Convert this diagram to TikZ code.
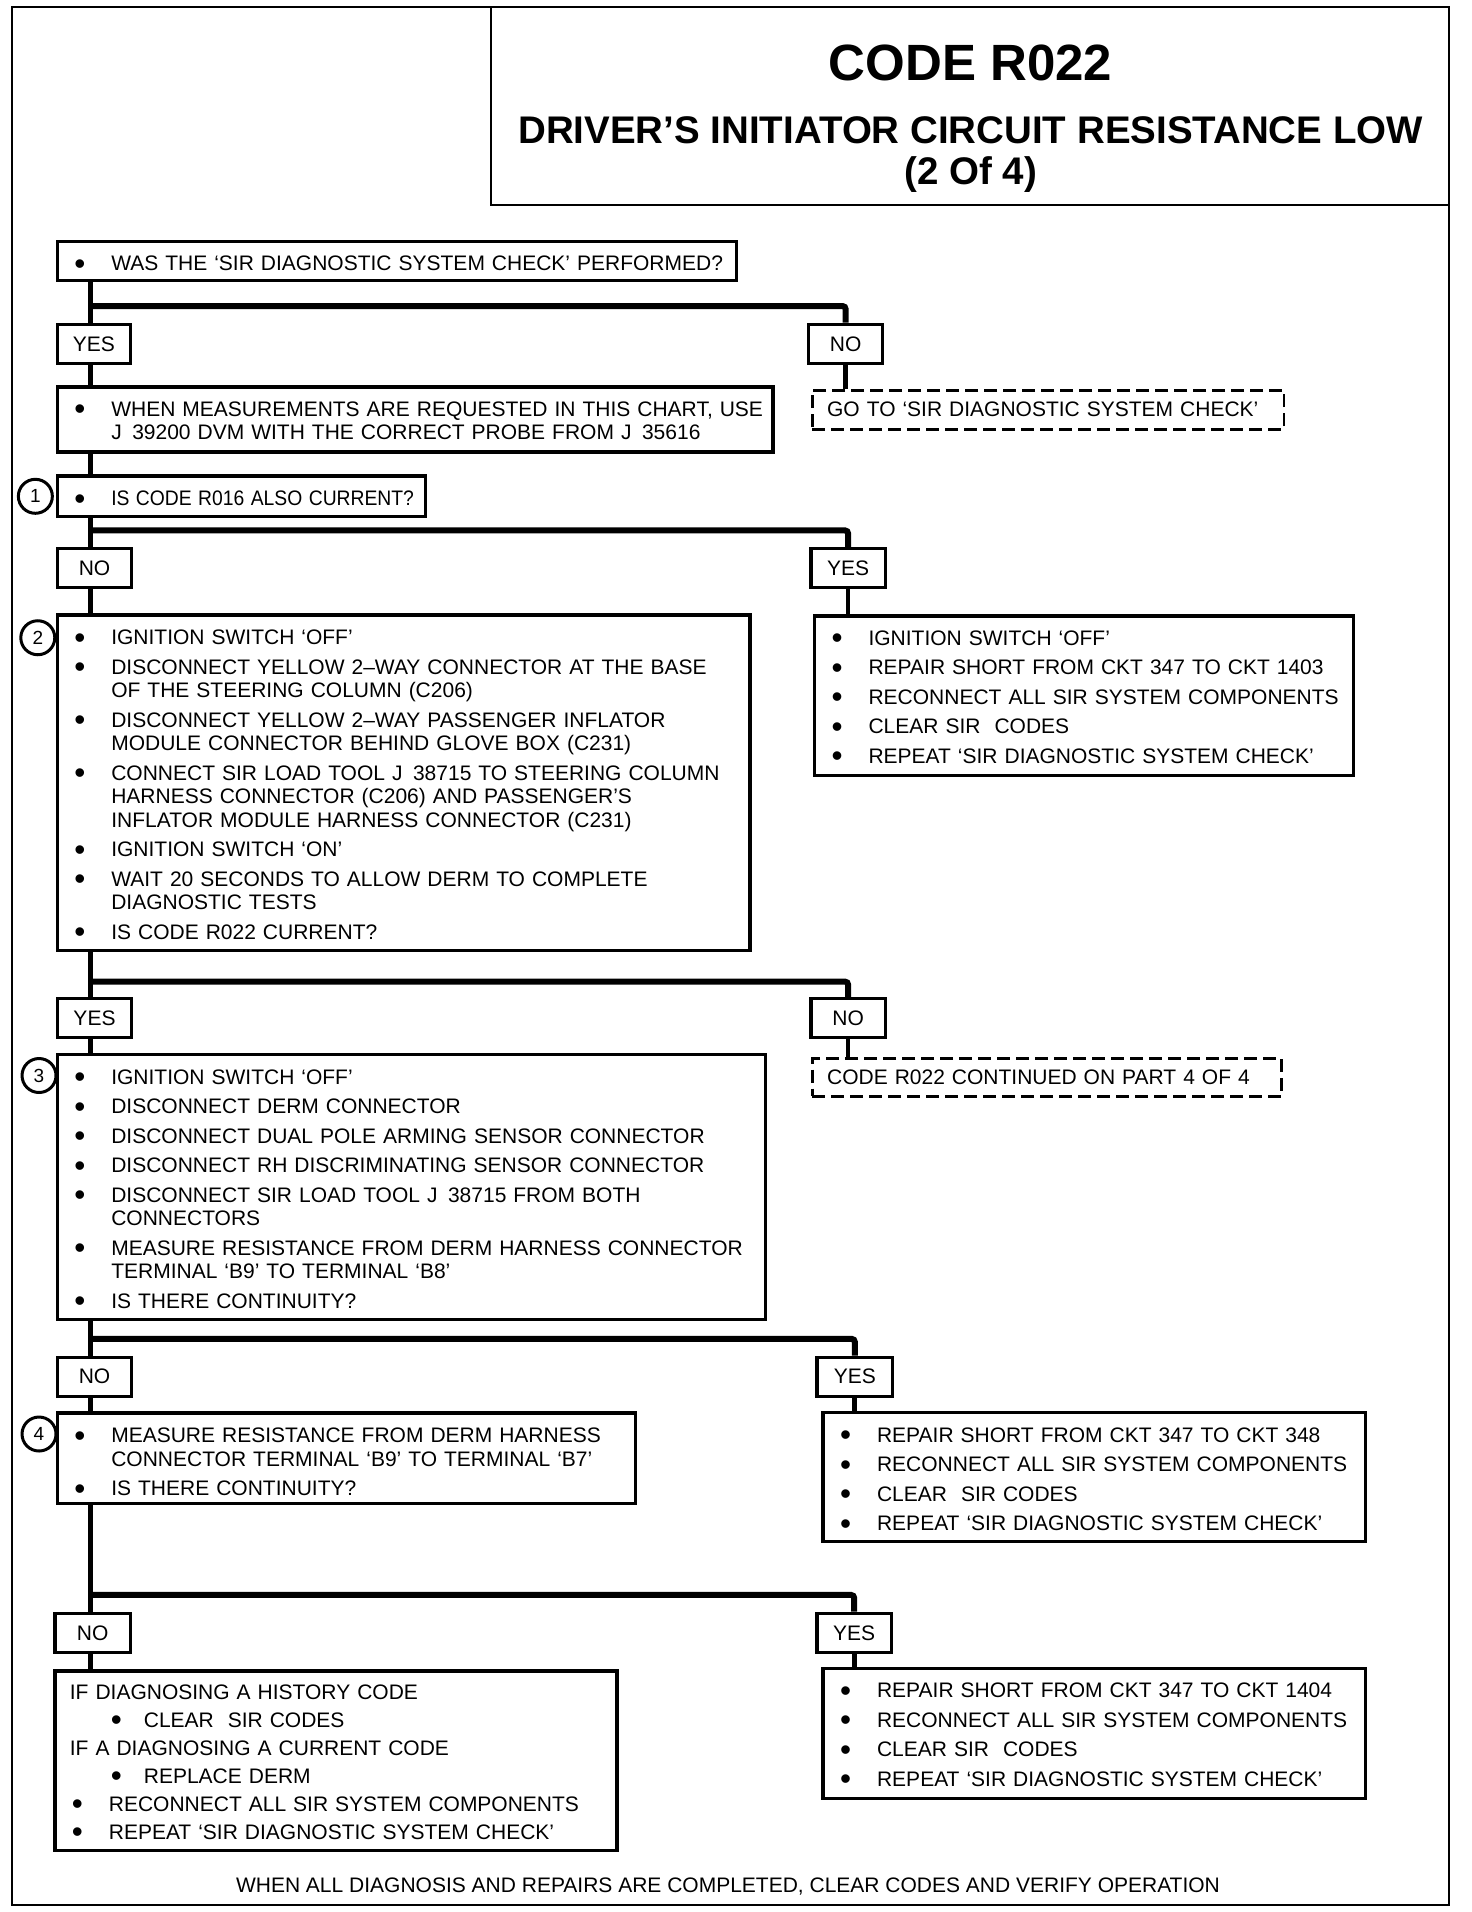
\documentclass[tikz,border=0pt]{standalone}
\usepackage{fontspec}
\setmainfont{Liberation Sans}
\newcommand\bodyfont{\fontsize{21}{23.5}\selectfont\setlength{\parskip}{6pt}\hyphenpenalty=10000\exhyphenpenalty=10000}
\newcommand\bul{\raisebox{-0.17em}{\scalebox{1.5}{\textbullet}}}
\newcommand\bi[1]{\par\hangindent=54pt\hangafter=1\noindent\makebox[54pt][l]{\hspace{17pt}\bul}#1\par}
\newcommand\sbi[1]{\par\hangindent=89pt\hangafter=1\noindent\makebox[89pt][l]{\hspace{56pt}\bul}#1\par}
\newcommand\pl[1]{\par\noindent\hspace{15pt}#1\par}
\newcommand\fcbox[7]{%
  \pgfmathsetmacro\fcw{(#4-#2)*1.2196}%
  \pgfmathsetmacro\fch{(#5-#3)*1.2196}%
  \node[#6, minimum width=\fcw pt, minimum height=\fch pt, text width=\fcw pt] (#1) at ({(#2+#4)/2},{(#3+#5)/2}) {#7};}
% name, x1, y1, x2, y2, upward text shift (pt), content
\newcommand\tbox[7]{\fcbox{#1}{#2}{#3}{#4}{#5}{box}{\kern-\dimexpr#6pt+6pt\relax#7\par\kern#6pt\relax}}
\tikzset{
  box/.style={draw, line width=3.3pt, inner xsep=0pt, inner ysep=0pt, align=left, font=\bodyfont},
  gobox/.style={draw, line width=2.8pt, dash pattern=on 13pt off 6pt, inner xsep=0pt, inner ysep=0pt, align=left, font=\bodyfont},
  lab/.style={draw, line width=3.3pt, inner sep=0pt, align=center, font=\fontsize{21}{21}\selectfont},
  num/.style={draw, circle, line width=3pt, inner sep=0pt, minimum size=34pt, font=\fontsize{19}{19}\selectfont},
  conn/.style={line width=4.8pt},
  barl/.style={line width=6pt, rounded corners=3pt},
}
\begin{document}
\begin{tikzpicture}[x=1.2196pt,y=-1.2196pt]
\useasboundingbox (0,0) rectangle (1207,1568);
\fill[white] (0,0) rectangle (1207,1568);
% frame and title
\draw[line width=2pt] (10,6) rectangle (1188,1562);
\draw[line width=2pt] (403,6) rectangle (1188,168);
\node[font=\bfseries\fontsize{51}{51}\selectfont] (t1) at (796,52) {CODE R022};
\node[font=\bfseries\fontsize{38.5}{38.5}\selectfont] (t2) at (796,107) {DRIVER'S INITIATOR CIRCUIT RESISTANCE LOW};
\node[font=\bfseries\fontsize{38.5}{38.5}\selectfont] (t3) at (796,143) {(2 Of 4)};
% boxes
\tbox{b1}{47}{199}{604}{229}{6}{\bi{WAS THE `SIR DIAGNOSTIC SYSTEM CHECK' PERFORMED?}}
\fcbox{lyes1}{47}{266}{107}{298}{lab}{YES}
\fcbox{lno1}{663}{266}{724}{298}{lab}{NO}
\tbox{b2}{47}{318}{634}{370}{12}{\bi{WHEN MEASUREMENTS ARE REQUESTED IN THIS CHART, USE\newline J~\,39200 DVM WITH THE CORRECT PROBE FROM J~\,35616}}
\fcbox{g1}{666}{320}{1053}{352}{gobox}{\hspace*{15pt}GO TO `SIR DIAGNOSTIC SYSTEM CHECK'}
\tbox{b3}{47}{392}{349}{422}{7.5}{\bi{\scalebox{0.92}[1]{IS CODE R016 ALSO CURRENT?}}}
\node[num] (c1) at (29,407) {1};
\fcbox{lno2}{47}{450}{108}{482}{lab}{NO}
\fcbox{lyes2}{665}{450}{726}{482}{lab}{YES}
\tbox{b4}{47}{506}{615}{778}{8}{%
\bi{IGNITION SWITCH `OFF'}
\bi{DISCONNECT YELLOW 2--WAY CONNECTOR AT THE BASE\newline OF THE STEERING COLUMN (C206)}
\bi{DISCONNECT YELLOW 2--WAY PASSENGER INFLATOR\newline MODULE CONNECTOR BEHIND GLOVE BOX (C231)}
\bi{CONNECT SIR LOAD TOOL J~\,38715 TO STEERING COLUMN\newline HARNESS CONNECTOR (C206) AND PASSENGER'S\newline INFLATOR MODULE HARNESS CONNECTOR (C231)}
\bi{IGNITION SWITCH `ON'}
\bi{WAIT 20 SECONDS TO ALLOW DERM TO COMPLETE\newline DIAGNOSTIC TESTS}
\bi{IS CODE R022 CURRENT?}}
\node[num] (c2) at (31,523) {2};
\tbox{r4}{668}{506}{1110}{635}{8.5}{%
\bi{IGNITION SWITCH `OFF'}
\bi{REPAIR SHORT FROM CKT 347 TO CKT 1403}
\bi{RECONNECT ALL SIR SYSTEM COMPONENTS}
\bi{CLEAR SIR~~CODES}
\bi{REPEAT `SIR DIAGNOSTIC SYSTEM CHECK'}}
\fcbox{lyes3}{47}{819}{108}{851}{lab}{YES}
\fcbox{lno3}{665}{819}{726}{851}{lab}{NO}
\tbox{b5}{47}{866}{628}{1081}{7.5}{%
\bi{IGNITION SWITCH `OFF'}
\bi{DISCONNECT DERM CONNECTOR}
\bi{DISCONNECT DUAL POLE ARMING SENSOR CONNECTOR}
\bi{DISCONNECT RH DISCRIMINATING SENSOR CONNECTOR}
\bi{DISCONNECT SIR LOAD TOOL J~\,38715 FROM BOTH\newline CONNECTORS}
\bi{MEASURE RESISTANCE FROM DERM HARNESS CONNECTOR\newline TERMINAL `B9' TO TERMINAL `B8'}
\bi{IS THERE CONTINUITY?}}
\node[num] (c3) at (32,882) {3};
\fcbox{g5}{666}{868}{1051}{899}{gobox}{\hspace*{15pt}CODE R022 CONTINUED ON PART 4 OF 4}
\fcbox{lno4}{47}{1113}{108}{1145}{lab}{NO}
\fcbox{lyes4}{670}{1113}{732}{1145}{lab}{YES}
\tbox{b6}{47}{1160}{521}{1232}{4.5}{%
\bi{MEASURE RESISTANCE FROM DERM HARNESS\newline CONNECTOR TERMINAL `B9' TO TERMINAL `B7'}
\bi{IS THERE CONTINUITY?}}
\node[num] (c4) at (32,1176) {4};
\tbox{r6}{675}{1160}{1120}{1263}{7.5}{%
\bi{REPAIR SHORT FROM CKT 347 TO CKT 348}
\bi{RECONNECT ALL SIR SYSTEM COMPONENTS}
\bi{CLEAR~~SIR CODES}
\bi{REPEAT `SIR DIAGNOSTIC SYSTEM CHECK'}}
\fcbox{lno5}{45}{1323}{107}{1355}{lab}{NO}
\fcbox{lyes5}{670}{1323}{731}{1355}{lab}{YES}
\tbox{b7}{45}{1371}{506}{1517}{8}{\setlength{\parskip}{4.5pt}%
\pl{IF DIAGNOSING A HISTORY CODE}
\sbi{CLEAR~~SIR CODES}
\pl{IF A DIAGNOSING A CURRENT CODE}
\sbi{REPLACE DERM}
\bi{RECONNECT ALL SIR SYSTEM COMPONENTS}
\bi{REPEAT `SIR DIAGNOSTIC SYSTEM CHECK'}}
\tbox{r7}{675}{1370}{1120}{1473}{8.5}{%
\bi{REPAIR SHORT FROM CKT 347 TO CKT 1404}
\bi{RECONNECT ALL SIR SYSTEM COMPONENTS}
\bi{CLEAR SIR~~CODES}
\bi{REPEAT `SIR DIAGNOSTIC SYSTEM CHECK'}}
\node[font=\fontsize{21}{21}\selectfont] (foot) at (597,1547) {WHEN ALL DIAGNOSIS AND REPAIRS ARE COMPLETED, CLEAR CODES AND VERIFY OPERATION};
% connectors
\coordinate (T) at (74,0);
\coordinate (j1) at (74,251);
\coordinate (j2) at (74,435);
\coordinate (j3) at (74,805);
\coordinate (j4) at (74,1098);
\coordinate (j5) at (74,1308);
\draw[conn] (b1.south -| T) -- (lyes1.north -| T);
\draw[barl] (j1) -| (lno1.north);
\draw[conn] (lyes1.south -| T) -- (b2.north -| T);
\draw[conn] (lno1.south) -- (lno1.south |- g1.north);
\draw[conn] (b2.south -| T) -- (b3.north -| T);
\draw[conn] (b3.south -| T) -- (lno2.north -| T);
\draw[barl] (j2) -| (lyes2.north);
\draw[conn] (lno2.south -| T) -- (b4.north -| T);
\draw[conn] (lyes2.south) -- (lyes2.south |- r4.north);
\draw[conn] (b4.south -| T) -- (lyes3.north -| T);
\draw[barl] (j3) -| (lno3.north);
\draw[conn] (lyes3.south -| T) -- (b5.north -| T);
\draw[conn] (lno3.south) -- (lno3.south |- g5.north);
\draw[conn] (b5.south -| T) -- (lno4.north -| T);
\draw[barl] (j4) -| (lyes4.north);
\draw[conn] (lno4.south -| T) -- (b6.north -| T);
\draw[conn] (lyes4.south) -- (lyes4.south |- r6.north);
\draw[conn] (b6.south -| T) -- (lno5.north -| T);
\draw[barl] (j5) -| (lyes5.north);
\draw[conn] (lno5.south -| T) -- (b7.north -| T);
\draw[conn] (lyes5.south) -- (lyes5.south |- r7.north);
\end{tikzpicture}
\end{document}
